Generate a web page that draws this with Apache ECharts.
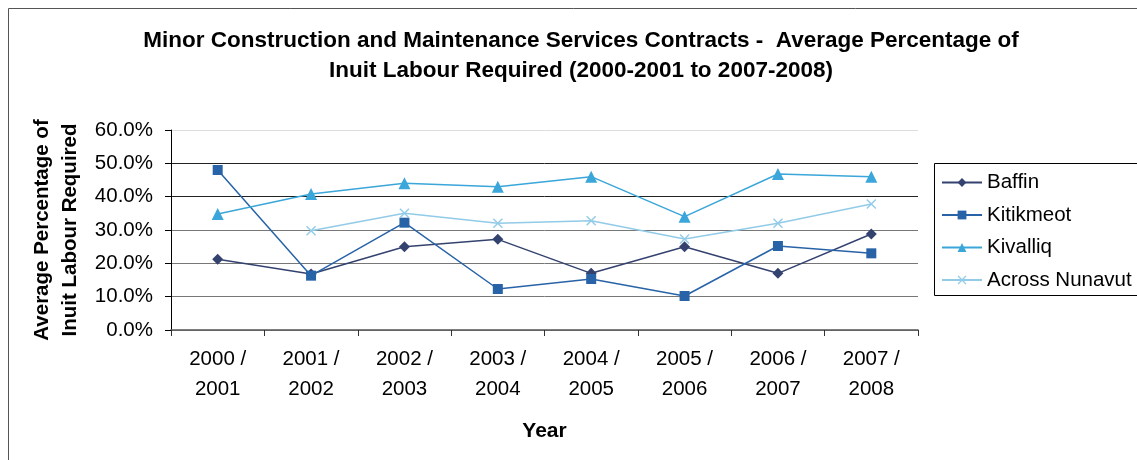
<!DOCTYPE html>
<html>
<head>
<meta charset="utf-8">
<script src="https://cdn.jsdelivr.net/npm/echarts@6/dist/echarts.min.js"></script>
<style>
  html, body { margin: 0; padding: 0; background: #fff; }
  #chart { width: 1137px; height: 460px; }
</style>
</head>
<body>
<div id="chart"></div>
<script>
// Fiscal years on the category axis
const years = ['2000 /\n2001', '2001 /\n2002', '2002 /\n2003', '2003 /\n2004',
               '2004 /\n2005', '2005 /\n2006', '2006 /\n2007', '2007 /\n2008'];

// Average percentage of Inuit labour required, by region
const baffin    = [21.2, 16.8, 25.0, 27.2, 17.0, 25.0, 17.0, 28.8];
const kitikmeot = [48.0, 16.3, 32.2, 12.3, 15.3, 10.2, 25.2, 23.0];
const kivalliq  = [34.8, 40.8, 44.0, 43.0, 46.0, 34.0, 46.8, 46.0];
const nunavut   = [null, 29.8, 35.0, 32.0, 32.8, 27.3, 32.0, 37.8];

const seriesNames = ['Baffin', 'Kitikmeot', 'Kivalliq', 'Across Nunavut'];

const FONT = '"Liberation Sans", Arial, sans-serif';
const crossPath = 'path://M0,1L1,0L5,4L9,0L10,1L6,5L10,9L9,10L5,6L1,10L0,9L4,5Z';

function lineSeries(name, data, color, symbol, size) {
  return {
    name: name,
    type: 'line',
    data: data,
    symbol: symbol,
    symbolSize: size,
    showSymbol: true,
    connectNulls: false,
    lineStyle: { color: color, width: 1.5 },
    itemStyle: { color: color },
    emphasis: { disabled: true },
    animation: false
  };
}

const chart = echarts.init(document.getElementById('chart'), null, { renderer: 'canvas' });

chart.setOption({
  backgroundColor: '#fff',
  animation: false,
  textStyle: { fontFamily: FONT },
  title: {
    text: 'Minor Construction and Maintenance Services Contracts -  Average Percentage of\nInuit Labour Required (2000-2001 to 2007-2008)',
    left: 576,
    top: 21,
    textAlign: 'center',
    textStyle: { fontFamily: FONT, fontSize: 22.5, fontWeight: 'bold', color: '#000', lineHeight: 30 }
  },
  graphic: [
    { type: 'rect', shape: { x: 8.5, y: 8.5, width: 1140, height: 470 },
      style: { fill: 'none', stroke: '#555', lineWidth: 1 }, silent: true, z: -1 },
    { type: 'rect', shape: { x: 934.5, y: 163.5, width: 210, height: 132 },
      style: { fill: '#fff', stroke: '#000', lineWidth: 1 }, silent: true, z: 0 }
  ],
  legend: {
    data: seriesNames,
    orient: 'vertical',
    left: 941,
    top: 172,
    itemWidth: 40,
    itemHeight: 11,
    itemGap: 11.5,
    padding: 0,
    z: 5,
    textStyle: { fontFamily: FONT, fontSize: 20.5, color: '#000', padding: [0, 0, 0, 0] }
  },
  grid: { left: 171, right: 219, top: 130, bottom: 130, containLabel: false },
  xAxis: {
    type: 'category',
    data: years,
    boundaryGap: true,
    name: 'Year',
    nameLocation: 'middle',
    nameGap: 91,
    nameTextStyle: { fontFamily: FONT, fontSize: 21, fontWeight: 'bold', color: '#000' },
    axisLine: { lineStyle: { color: '#555', width: 1.5 } },
    axisTick: { show: true, alignWithLabel: false, length: 6, lineStyle: { color: '#333' } },
    axisLabel: { fontFamily: FONT, fontSize: 20.5, color: '#000', lineHeight: 30, margin: 14 }
  },
  yAxis: {
    type: 'value',
    min: 0,
    max: 60,
    interval: 10,
    name: 'Average Percentage of\nInuit Labour Required',
    nameLocation: 'middle',
    nameGap: 81,
    nameTextStyle: { fontFamily: FONT, fontSize: 20.5, fontWeight: 'bold', color: '#000', lineHeight: 28 },
    axisLine: { show: true, lineStyle: { color: '#000', width: 1 } },
    axisTick: { show: true, length: 6, lineStyle: { color: '#000' } },
    axisLabel: {
      fontFamily: FONT, fontSize: 20.5, color: '#000', margin: 18,
      formatter: v => v.toFixed(1) + '%'
    },
    splitLine: {
      show: true,
      lineStyle: {
        color: ['#888', '#777', '#777', '#777', '#222', '#222', '#ddd'],
        width: 1
      }
    }
  },
  series: [
    lineSeries('Baffin', baffin, '#34426F', 'diamond', 11),
    lineSeries('Kitikmeot', kitikmeot, '#2863A8', 'rect', 10),
    lineSeries('Kivalliq', kivalliq, '#3AA6D9', 'triangle', 12),
    lineSeries('Across Nunavut', nunavut, '#92CBE8', crossPath, 10)
  ]
});
</script>
</body>
</html>
